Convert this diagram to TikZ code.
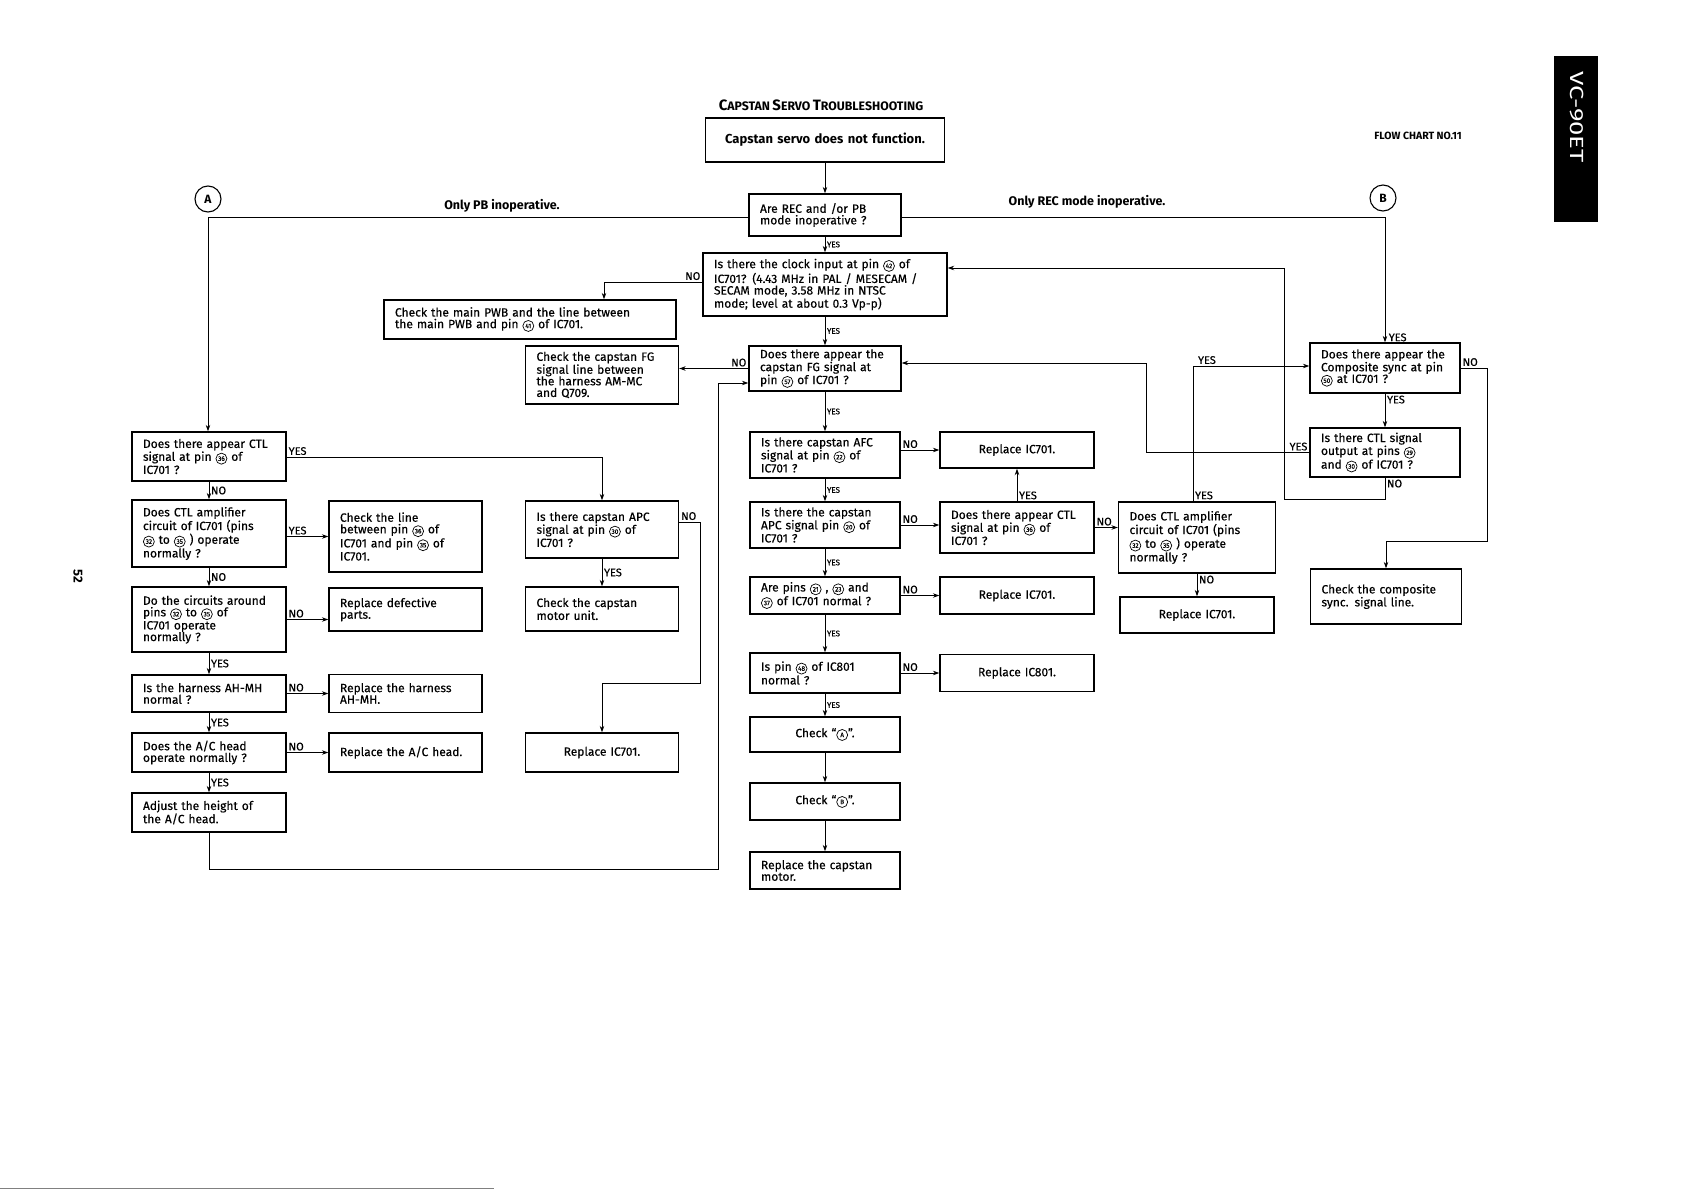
\documentclass[tikz,border=0pt]{standalone}
\usepackage{fontspec}
\setmainfont{Fira Sans}
\newfontfamily\bxfont{Fira Sans}[FakeBold=0.35]
\usetikzlibrary{arrows.meta}
\newcommand{\pn}[1]{\tikz[baseline=(pnode.base)]\node[draw,circle,line width=0.7pt,inner sep=0pt,minimum size=11pt,text width={},align=center,font=\fontsize{6.5}{7}\selectfont](pnode){#1};}
\newcommand{\tsc}[2]{{\fontsize{15}{15}\selectfont #1}{\fontsize{12.3}{15}\selectfont #2}}
\begin{document}
\begin{tikzpicture}[x=1pt,y=-1pt,
  box/.style={draw,line width=1.3pt,inner xsep=11pt,inner ysep=1pt,align=left,font=\bxfont\fontsize{12}{11.6}\selectfont},
  bx/.style n args={2}{box,text width=#1-22pt,minimum width=#1,minimum height=#2},
  bc/.style n args={2}{box,align=center,text width=#1-22pt,minimum width=#1,minimum height=#2},
  arr/.style={draw,line width=1pt,-{Stealth[length=6.5pt,width=4.5pt]}},
  lb/.style={font=\bxfont\fontsize{11}{11}\selectfont,inner sep=1.5pt},
  ls/.style={font=\bxfont\fontsize{8}{8}\selectfont,inner sep=1.5pt},
  circ/.style={draw,circle,line width=1.1pt,minimum size=26pt,inner sep=0pt,font=\fontsize{12}{12}\selectfont\bfseries}]
\useasboundingbox (0,0) rectangle (1683,1191);
\fill[white] (0,0) rectangle (1683,1191);

% free texts
\node[font=\bfseries] (title) at (821,105) {\tsc{C}{APSTAN} \tsc{S}{ERVO} \tsc{T}{ROUBLESHOOTING}};
\node[font=\bfseries\fontsize{10.5}{12}\selectfont] (fc) at (1418,136) {FLOW CHART NO.11};
\node[font=\bfseries\fontsize{12.5}{14}\selectfont] (opb) at (502,206) {Only PB inoperative.};
\node[font=\bfseries\fontsize{12.5}{14}\selectfont] (orec) at (1087,202) {Only REC mode inoperative.};
\node[circ] (ca) at (208,199) {A};
\node[circ] (cb) at (1383,198) {B};
\fill (1554,56) rectangle (1598,222);
\node[white,rotate=-90,font=\fontsize{19}{19}\selectfont] (tab) at (1577,117) {\scalebox{1.35}[1]{VC-90ET}};
\node[rotate=-90,font=\bfseries\fontsize{13}{13}\selectfont] (pg) at (78,576) {52};
\draw[gray,line width=1pt] (0,1188) -- (494,1188);

% centre column
\node[bc={239pt}{44pt},font=\fontsize{13}{15}\selectfont\bfseries] (b1) at (825,140) {Capstan servo does not function.};
\node[bx={152pt}{42pt}] (b2) at (825,215) {Are REC and /or PB\\mode inoperative ?};
\node[bx={244pt}{63pt}] (b3) at (825,284.5) {Is there the clock input at pin \pn{42} of\\IC701? (4.43 MHz in PAL / MESECAM /\\SECAM mode, 3.58 MHz in NTSC\\mode; level at about 0.3 Vp-p)};
\node[bx={292pt}{39pt}] (b4) at (530,319.5) {Check the main PWB and the line between\\the main PWB and pin \pn{41} of IC701.};
\node[bx={152pt}{45pt}] (b5) at (825,368.5) {Does there appear the\\capstan FG signal at\\pin \pn{57} of IC701 ?};
\node[bx={153pt}{58pt}] (b6) at (602,375) {Check the capstan FG\\signal line between\\the harness AM-MC\\and Q709.};
\node[bx={150pt}{46pt}] (b7) at (825,455) {Is there capstan AFC\\signal at pin \pn{22} of\\IC701 ?};
\node[bc={154pt}{36pt}] (b8) at (1017,450) {Replace IC701.};
\node[bx={150pt}{46pt}] (b9) at (825,525) {Is there the capstan\\APC signal pin \pn{20} of\\IC701 ?};
\node[bx={154pt}{51pt}] (b10) at (1017,527.5) {Does there appear CTL\\signal at pin \pn{36} of\\IC701 ?};
\node[bx={157pt}{71pt}] (b11) at (1197,537.5) {Does CTL amplifier\\circuit of IC701 (pins\\\pn{32} to \pn{35} ) operate\\normally ?};
\node[bc={154pt}{36pt}] (b12) at (1197,615) {Replace IC701.};
\node[bx={150pt}{50pt}] (b13) at (1385,368) {Does there appear the\\Composite sync at pin\\\pn{50} at IC701 ?};
\node[bx={150pt}{49pt}] (b22) at (1385,452.5) {Is there CTL signal\\output at pins \pn{29}\\and \pn{30} of IC701 ?};
\node[bx={151pt}{55pt}] (b21) at (1386,596.5) {Check the composite\\sync. signal line.};
\node[bx={150pt}{37pt}] (b14) at (825,595.5) {Are pins \pn{21} , \pn{23} and\\\pn{37} of IC701 normal ?};
\node[bc={154pt}{37pt}] (b15) at (1017,595.5) {Replace IC701.};
\node[bx={150pt}{40pt}] (b16) at (825,673) {Is pin \pn{48} of IC801\\normal ?};
\node[bc={154pt}{37pt}] (b17) at (1017,673) {Replace IC801.};
\node[bc={150pt}{35pt}] (b18) at (825,734.5) {Check “\pn{A}”.};
\node[bc={150pt}{37pt}] (b19) at (825,801.5) {Check “\pn{B}”.};
\node[bx={150pt}{37pt}] (b20) at (825,870.5) {Replace the capstan\\motor.};

% left column
\node[bx={154pt}{49pt}] (l1) at (209,456.5) {Does there appear CTL\\signal at pin \pn{36} of\\IC701 ?};
\node[bx={154pt}{67pt}] (l2) at (209,533.5) {Does CTL amplifier\\circuit of IC701 (pins\\\pn{32} to \pn{35} ) operate\\normally ?};
\node[bx={153pt}{71pt}] (l2r) at (405.5,536.5) {Check the line\\between pin \pn{36} of\\IC701 and pin \pn{35} of\\IC701.};
\node[bx={154pt}{65pt}] (l3) at (209,619.5) {Do the circuits around\\pins \pn{32} to \pn{35} of\\IC701 operate\\normally ?};
\node[bx={153pt}{43pt}] (l3r) at (405.5,609.5) {Replace defective\\parts.};
\node[bx={154pt}{37pt}] (l4) at (209,693.5) {Is the harness AH-MH\\normal ?};
\node[bx={153pt}{38pt}] (l4r) at (405.5,693.5) {Replace the harness\\AH-MH.};
\node[bx={154pt}{39pt}] (l5) at (209,752.5) {Does the A/C head\\operate normally ?};
\node[bx={153pt}{39pt}] (l5r) at (405.5,752.5) {Replace the A/C head.};
\node[bx={154pt}{39pt}] (l6) at (209,812.5) {Adjust the height of\\the A/C head.};
\node[bx={153pt}{57pt}] (apc) at (602,529.5) {Is there capstan APC\\signal at pin \pn{30} of\\IC701 ?};
\node[bx={153pt}{44pt}] (apcy) at (602,609) {Check the capstan\\motor unit.};
\node[bc={153pt}{39pt}] (apcn) at (602,752.5) {Replace IC701.};

% corner coordinates
\coordinate (cA) at (208,217);
\coordinate (cB) at (1385,217);
\coordinate (k7) at (604,282);
\coordinate (k1) at (1193,366);
\coordinate (k2) at (1487,368);
\coordinate (k3) at (1487,541);
\coordinate (k4) at (1146,363);
\coordinate (k5) at (1284,499);
\coordinate (k6) at (1284,268);
\coordinate (k8) at (209,869);
\coordinate (k9) at (718,869);
\coordinate (k10) at (718,383);
\coordinate (k11) at (700,522);
\coordinate (k12) at (700,683);
\coordinate (k13) at (602,683);
\coordinate (k14) at (602,457);

% connectors centre
\draw[arr] (b1) -- (b2);
\draw[arr] (b2) -- node[ls,midway,anchor=west]{YES} (b3);
\draw[arr] (b2.west |- cA) -- (cA) -- (cA |- l1.north);
\draw[arr] (b2.east |- cB) -- (cB) -- (cB |- b13.north);
\draw[arr] (b3.west |- k7) -- node[lb,pos=0,anchor=south east]{NO} (k7) -- (k7 |- b4.north);
\draw[arr] (b3) -- node[ls,midway,anchor=west]{YES} (b5);
\draw[arr] (b5.west) -- node[lb,pos=0,anchor=south east]{NO} (b5.west -| b6.east);
\draw[arr] (b5) -- node[ls,midway,anchor=west]{YES} (b7);
\draw[arr] (b7.east |- b8) -- node[lb,pos=0,anchor=south west]{NO} (b8);
\draw[arr] (b7) -- node[ls,midway,anchor=west]{YES} (b9);
\draw[arr] (b9.east) -- node[lb,pos=0,anchor=south west]{NO} (b9.east -| b10.west);
\draw[arr] (b10) -- node[lb,pos=0,anchor=south west]{YES} (b8);
\draw[arr] (b10.east) -- node[lb,pos=0,anchor=south west]{NO} (b10.east -| b11.west);
\draw[arr] (b11) -- node[lb,pos=0,anchor=north west]{NO} (b11 |- b12.north);
\draw[arr] (k1 |- b11.north) -- node[lb,pos=0,anchor=south west]{YES} (k1) -- node[lb,pos=0,anchor=south west,xshift=3pt]{YES} (k1 -| b13.west);
\draw[arr] (b13) -- node[lb,pos=0,anchor=north west]{YES} (b22);
\draw[arr] (b13.east) -- node[lb,pos=0,anchor=south west]{NO} (k2) -- (k3) -- (k3 -| b21) -- (b21);
\draw[arr] (b22.west) -- node[lb,pos=0,anchor=south east]{YES} (b22.west -| k4) -- (k4) -- (k4 -| b5.east);
\draw[arr] (b22) -- node[lb,pos=0,anchor=north west]{NO} (b22 |- k5) -- (k5) -- (k6) -- (k6 -| b3.east);
\draw[arr] (b9) -- node[ls,midway,anchor=west]{YES} (b14);
\draw[arr] (b14) -- node[lb,pos=0,anchor=south west]{NO} (b15);
\draw[arr] (b14) -- node[ls,midway,anchor=west]{YES} (b16);
\draw[arr] (b16.east) -- node[lb,pos=0,anchor=south west]{NO} (b16.east -| b17.west);
\draw[arr] (b16) -- node[ls,midway,anchor=west]{YES} (b18);
\draw[arr] (b18) -- (b19);
\draw[arr] (b19) -- (b20);
\node[lb,anchor=south west] (yB) at (1387,343) {YES};

% connectors left
\draw[arr] (l1.east |- k14) -- node[lb,pos=0,anchor=south west]{YES} (k14) -- (apc);
\draw[arr] (l1) -- node[lb,midway,anchor=west]{NO} (l2);
\draw[arr] (l2r.west -| l2.east) -- node[lb,pos=0,anchor=south west]{YES} (l2r.west);
\draw[arr] (l2) -- node[lb,midway,anchor=west]{NO} (l3);
\draw[arr] (l3.east) -- node[lb,pos=0,anchor=south west]{NO} (l3.east -| l3r.west);
\draw[arr] (l3) -- node[lb,midway,anchor=west]{YES} (l4);
\draw[arr] (l4) -- node[lb,pos=0,anchor=south west]{NO} (l4r);
\draw[arr] (l4) -- node[lb,midway,anchor=west]{YES} (l5);
\draw[arr] (l5) -- node[lb,pos=0,anchor=south west]{NO} (l5r);
\draw[arr] (l5) -- node[lb,midway,anchor=west]{YES} (l6);
\draw[arr] (l6) -- (l6 |- k8) -- (k9) -- (k10) -- (k10 -| b5.west);
\draw[arr] (apc) -- node[lb,midway,anchor=west]{YES} (apcy);
\draw[arr] (apc.east |- k11) -- node[lb,pos=0,anchor=south west]{NO} (k11) -- (k12) -- (k13) -- (apcn);
\end{tikzpicture}
\end{document}
